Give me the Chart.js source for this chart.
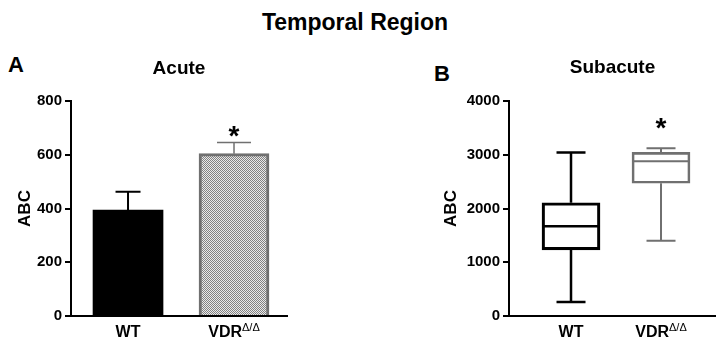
<!DOCTYPE html>
<html>
<head>
<meta charset="utf-8">
<script src="https://cdn.jsdelivr.net/npm/chart.js@4"></script>
<style>
  body { margin: 0; width: 716px; height: 340px; position: relative; background: #fff; overflow: hidden;
         font-family: "Liberation Sans", Arial, sans-serif; }
  .t { position: absolute; font-weight: bold; line-height: 1; white-space: nowrap; color: #000; }
  #main { left: -3px; width: 716px; text-align: center; top: 11px; font-size: 23px; }
  #lblA { left: 8px; top: 54px; font-size: 22px; }
  #lblB { left: 434px; top: 63px; font-size: 22px; }
  canvas { position: absolute; top: 0; }
  #acute { left: 0; }
  #subacute { left: 390px; }
</style>
</head>
<body>
<div class="t" id="main">Temporal Region</div>
<div class="t" id="lblA">A</div>
<div class="t" id="lblB">B</div>
<canvas id="acute" width="300" height="340"></canvas>
<canvas id="subacute" width="326" height="340"></canvas>
<script>
// groups on the x axis
const groups = ['WT', 'VDR'];
const groupSup = ['', '\u0394/\u0394'];
const sigMarks = ['', '*'];

// panel A: acute, mean and SEM
const acuteMean = [394, 604];
const acuteSem = [68, 42];

// panel B: subacute, box plot values
const subMin = [262, 1400];
const subQ1 = [1231, 2469];
const subMedian = [1668, 2881];
const subQ3 = [2107, 3044];
const subMax = [3044, 3119];

const FONT = '"Liberation Sans", Arial, sans-serif';
Chart.defaults.font.family = FONT;
Chart.defaults.color = '#000';

const groupColor = ['#000000', '#707070'];

// fine checker fill of the VDR bar
const pc = document.createElement('canvas');
pc.width = 2; pc.height = 2;
const pctx = pc.getContext('2d');
pctx.fillStyle = '#eaeaea';
pctx.fillRect(0, 0, 2, 2);
pctx.fillStyle = '#828282';
pctx.fillRect(0, 0, 1, 1);
pctx.fillRect(1, 1, 1, 1);
const checker = pctx.createPattern(pc, 'repeat');

function drawStar(ctx, x, y) {
  ctx.fillStyle = '#000';
  ctx.font = 'bold 28px ' + FONT;
  ctx.textAlign = 'center';
  ctx.textBaseline = 'middle';
  ctx.fillText('*', x, y);
}

// x labels with superscript
const groupLabels = {
  id: 'groupLabels',
  afterDraw(chart) {
    const { ctx, chartArea } = chart;
    const xs = chart.scales.x;
    const base = chartArea.bottom + 21;
    ctx.save();
    ctx.fillStyle = '#000';
    ctx.textBaseline = 'alphabetic';
    ctx.textAlign = 'left';
    groups.forEach((g, i) => {
      ctx.font = 'bold 16px ' + FONT;
      const w1 = ctx.measureText(g).width;
      ctx.font = '11px ' + FONT;
      const w2 = groupSup[i] ? ctx.measureText(groupSup[i]).width : 0;
      const x0 = xs.getPixelForValue(i) - (w1 + w2) / 2;
      ctx.font = 'bold 16px ' + FONT;
      ctx.fillText(g, x0, base);
      if (groupSup[i]) {
        ctx.font = '11px ' + FONT;
        ctx.fillText(groupSup[i], x0 + w1, base - 6);
      }
    });
    ctx.restore();
  }
};

const errorBars = {
  id: 'errorBars',
  afterDatasetsDraw(chart) {
    const { ctx } = chart;
    const xs = chart.scales.x, ys = chart.scales.y;
    const caps = [25, 34];
    const widths = [2, 1.5];
    ctx.save();
    acuteMean.forEach((m, i) => {
      const cx = xs.getPixelForValue(i);
      const y0 = ys.getPixelForValue(m);
      const y1 = ys.getPixelForValue(m + acuteSem[i]);
      ctx.strokeStyle = groupColor[i];
      ctx.lineWidth = widths[i];
      ctx.beginPath();
      ctx.moveTo(cx, y0);
      ctx.lineTo(cx, y1);
      ctx.moveTo(cx - caps[i] / 2, y1);
      ctx.lineTo(cx + caps[i] / 2, y1);
      ctx.stroke();
      if (sigMarks[i]) drawStar(ctx, cx, y1 - 5);
    });
    ctx.restore();
  }
};

const boxWhiskers = {
  id: 'boxWhiskers',
  afterDatasetsDraw(chart) {
    const { ctx } = chart;
    const xs = chart.scales.x, ys = chart.scales.y;
    const boxW = 58, cap = 29;
    const widths = [2.5, 2];
    ctx.save();
    groups.forEach((g, i) => {
      const cx = xs.getPixelForValue(i);
      ctx.strokeStyle = groupColor[i];
      ctx.lineWidth = widths[i];
      ctx.beginPath();
      // whiskers
      ctx.moveTo(cx, ys.getPixelForValue(subQ3[i]));
      ctx.lineTo(cx, ys.getPixelForValue(subMax[i]));
      ctx.moveTo(cx, ys.getPixelForValue(subQ1[i]));
      ctx.lineTo(cx, ys.getPixelForValue(subMin[i]));
      // caps
      [subMin[i], subMax[i]].forEach(v => {
        const py = ys.getPixelForValue(v);
        ctx.moveTo(cx - cap / 2, py);
        ctx.lineTo(cx + cap / 2, py);
      });
      // median
      const my = ys.getPixelForValue(subMedian[i]);
      ctx.moveTo(cx - boxW / 2, my);
      ctx.lineTo(cx + boxW / 2, my);
      ctx.stroke();
      if (sigMarks[i]) drawStar(ctx, cx, ys.getPixelForValue(subMax[i]) - 19);
    });
    ctx.restore();
  }
};

function yAxis(max, step, width, titlePad) {
  return {
    min: 0,
    max: max,
    ticks: { stepSize: step, font: { size: 15, weight: 'bold' }, padding: 3, color: '#000',
             callback: v => String(v) },
    grid: { drawOnChartArea: false, tickLength: 6, lineWidth: 2, color: '#000' },
    border: { color: '#000', width: 2 },
    title: { display: true, text: 'ABC', font: { size: 17, weight: 'bold' }, padding: { top: titlePad } },
    afterFit: s => { s.width = width; }
  };
}

function xAxis(min, max) {
  return {
    type: 'linear',
    offset: false,
    min: min,
    max: max,
    ticks: { display: false },
    grid: { display: false },
    border: { color: '#000', width: 2 },
    afterFit: s => { s.height = 24; }
  };
}

new Chart(document.getElementById('acute'), {
  type: 'bar',
  data: {
    datasets: [{
      data: acuteMean.map((v, i) => ({ x: i, y: v })),
      backgroundColor: ['#000000', checker],
      borderColor: groupColor,
      borderWidth: [0, 3],
      barThickness: 70
    }]
  },
  options: {
    responsive: false,
    animation: false,
    layout: { padding: { left: 0, right: 13, top: 0, bottom: 0 } },
    plugins: {
      legend: { display: false },
      tooltip: { enabled: false },
      title: { display: true, text: 'Acute', fullSize: false, font: { size: 19, weight: 'bold' },
               padding: { top: 57.6, bottom: 20.6 } }
    },
    scales: {
      x: xAxis(-0.538, 1.5),
      y: yAxis(800, 200, 71, 15)
    }
  },
  plugins: [errorBars, groupLabels]
});

new Chart(document.getElementById('subacute'), {
  type: 'bar',
  data: {
    datasets: [{
      data: subQ1.map((v, i) => ({ x: i, y: [v, subQ3[i]] })),
      backgroundColor: 'rgba(255,255,255,0)',
      borderColor: groupColor,
      borderWidth: [2.5, 2],
      borderSkipped: false,
      barThickness: 58
    }]
  },
  options: {
    responsive: false,
    animation: false,
    layout: { padding: { left: 0, right: 0, top: 0, bottom: 0 } },
    plugins: {
      legend: { display: false },
      tooltip: { enabled: false },
      title: { display: true, text: 'Subacute', fullSize: false, font: { size: 19, weight: 'bold' },
               padding: { top: 56.6, bottom: 21.6 } }
    },
    scales: {
      x: xAxis(-0.689, 1.611),
      y: yAxis(4000, 1000, 119, 51)
    }
  },
  plugins: [boxWhiskers, groupLabels]
});
</script>
</body>
</html>
